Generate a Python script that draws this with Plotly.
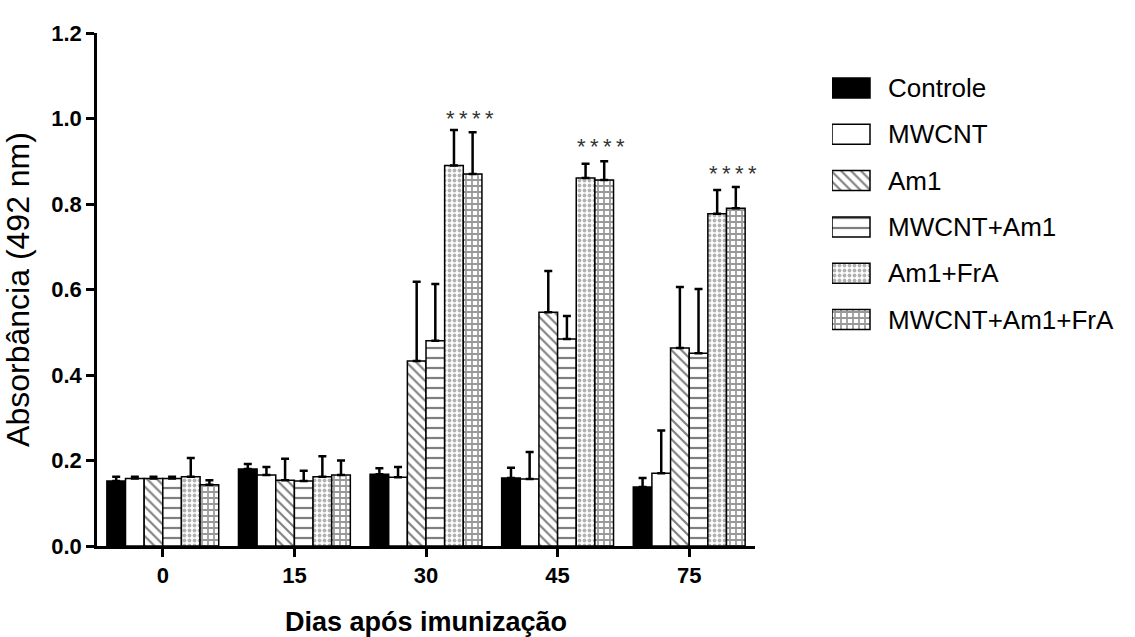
import plotly.graph_objects as go

# Days after immunization (x categories)
days = ["0", "15", "30", "45", "75"]

# Mean absorbance (492 nm) per group
controle = [0.152, 0.180, 0.168, 0.159, 0.138]
mwcnt = [0.158, 0.166, 0.161, 0.157, 0.170]
am1 = [0.158, 0.154, 0.433, 0.547, 0.463]
mwcnt_am1 = [0.158, 0.152, 0.480, 0.484, 0.451]
am1_fra = [0.162, 0.162, 0.890, 0.861, 0.777]
mwcnt_am1_fra = [0.143, 0.166, 0.870, 0.856, 0.790]

# Upper error (SD) per group
controle_err = [0.010, 0.012, 0.014, 0.024, 0.021]
mwcnt_err = [0.004, 0.019, 0.024, 0.063, 0.100]
am1_err = [0.004, 0.050, 0.185, 0.096, 0.143]
mwcnt_am1_err = [0.004, 0.024, 0.133, 0.054, 0.150]
am1_fra_err = [0.044, 0.048, 0.083, 0.033, 0.056]
mwcnt_am1_fra_err = [0.011, 0.034, 0.098, 0.044, 0.050]

# Significance marks
sig_days = ["30", "45", "75"]
sig_text = ["*\u2009*\u2009*\u2009*"] * 3
sig_y = [1.01, 0.945, 0.88]

LINE = dict(color="black", width=1.5)
fills = [
    dict(color="black", pattern=None),
    dict(color="white", pattern=None),
    dict(color="white", pattern=dict(shape="\\", fgcolor="black", bgcolor="white",
                                     size=7, solidity=0.3)),
    dict(color="white", pattern=dict(shape="-", fgcolor="black", bgcolor="white",
                                     size=10, solidity=0.22)),
    dict(color="white", pattern=dict(shape=".", fgcolor="#666666", bgcolor="white",
                                     size=5, solidity=0.45)),
    dict(color="white", pattern=dict(shape="+", fgcolor="#333333", bgcolor="white",
                                     size=6, solidity=0.5)),
]
series = [
    ("Controle", controle, controle_err),
    ("MWCNT", mwcnt, mwcnt_err),
    ("Am1", am1, am1_err),
    ("MWCNT+Am1", mwcnt_am1, mwcnt_am1_err),
    ("Am1+FrA", am1_fra, am1_fra_err),
    ("MWCNT+Am1+FrA", mwcnt_am1_fra, mwcnt_am1_fra_err),
]

FONT = "Liberation Sans, Arial, sans-serif"

# page geometry (px)
W, H = 1135, 637
ML, MR, MT, MB = 97, 10, 33, 91
plot_w = W - ML - MR
chart_right = 755          # right end of the bar chart's x axis
key_left = 832             # left edge of the key swatches
chart_dom = (chart_right - ML) / plot_w
key_dom = (key_left - ML) / plot_w

fig = go.Figure()
for (name, vals, errs), f in zip(series, fills):
    marker = dict(color=f["color"], line=LINE)
    if f["pattern"]:
        marker["pattern"] = f["pattern"]
    fig.add_trace(go.Bar(
        name=name, x=days, y=vals, marker=marker, showlegend=False,
        error_y=dict(type="data", symmetric=False, array=errs,
                     arrayminus=[0] * len(errs), color="black",
                     thickness=2.5, width=4),
    ))

# key: swatch rectangles on a hidden pixel-unit axis pair
key_step = 46.3
key_first = 55
sw_w, sw_h = 38, 20
for i, ((name, _, _), f) in enumerate(zip(series, fills)):
    cy = key_first + i * key_step
    tr = dict(
        x=[0, sw_w, sw_w, 0, 0],
        y=[cy - sw_h / 2, cy - sw_h / 2, cy + sw_h / 2, cy + sw_h / 2, cy - sw_h / 2],
        mode="lines", fill="toself", fillcolor=f["color"],
        line=LINE, xaxis="x2", yaxis="y2", showlegend=False, hoverinfo="skip",
    )
    if f["pattern"]:
        tr["fillpattern"] = f["pattern"]
    fig.add_trace(go.Scatter(**tr))
    fig.add_annotation(x=54, y=cy, text=name, xref="x2", yref="y2",
                       xanchor="left", yanchor="middle", showarrow=False,
                       font=dict(family=FONT, size=26, color="black"))

# significance stars above the pair of FrA bars
n_series = len(series)
bargap = 0.15
bar_w = (1 - bargap) / n_series
pair_offset = bar_w * 2 + 0.05
for d, t, yv in zip(sig_days, sig_text, sig_y):
    fig.add_annotation(x=days.index(d) + pair_offset, y=yv, text=t,
                       showarrow=False, xref="x", yref="y", yshift=-4,
                       font=dict(family=FONT, size=22, color="#333333"))

fig.update_layout(
    width=W, height=H,
    margin=dict(l=ML, r=MR, t=MT, b=MB, autoexpand=False),
    plot_bgcolor="white", paper_bgcolor="white",
    barmode="group", bargap=bargap, bargroupgap=0,
    font=dict(family=FONT, color="black"),
    showlegend=False,
    xaxis=dict(
        domain=[0, chart_dom],
        type="category", range=[-0.5, 4.5],
        showline=True, linecolor="black", linewidth=2.5,
        ticks="outside", ticklen=8, tickwidth=2.5, tickcolor="black",
        tickfont=dict(family=FONT, size=22, weight="bold"),
        showgrid=False, zeroline=False,
        title=dict(text="Dias após imunização", standoff=26,
                   font=dict(family=FONT, size=27, weight="bold")),
    ),
    yaxis=dict(
        range=[0, 1.2], dtick=0.2, tickformat=".1f",
        showline=True, linecolor="black", linewidth=2.5,
        ticks="outside", ticklen=8, tickwidth=2.5, tickcolor="black",
        tickfont=dict(family=FONT, size=22, weight="bold"),
        showgrid=False, zeroline=False,
        title=dict(text="Absorbância (492 nm)", standoff=14,
                   font=dict(family=FONT, size=32)),
    ),
    xaxis2=dict(domain=[key_dom, 1], range=[0, W - MR - key_left],
                anchor="y2", visible=False, fixedrange=True),
    yaxis2=dict(domain=[0, 1], range=[H - MT - MB, 0],
                anchor="x2", visible=False, fixedrange=True),
)

fig.write_html("out.html")
